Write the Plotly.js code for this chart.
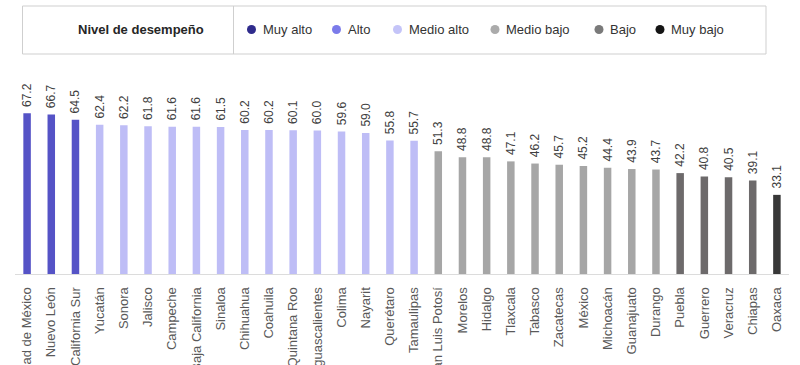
<!DOCTYPE html>
<html>
<head>
<meta charset="utf-8">
<script src="https://cdn.plot.ly/plotly-3.0.1.min.js"></script>
<style>html,body{margin:0;padding:0;background:#fff;}#chart{width:800px;height:365px;}</style>
</head>
<body>
<div id="chart"></div>
<script>
// ---- data ----
const states = ["Ciudad de México","Nuevo León","Baja California Sur","Yucatán","Sonora","Jalisco","Campeche","Baja California","Sinaloa","Chihuahua","Coahuila","Quintana Roo","Aguascalientes","Colima","Nayarit","Querétaro","Tamaulipas","San Luis Potosí","Morelos","Hidalgo","Tlaxcala","Tabasco","Zacatecas","México","Michoacán","Guanajuato","Durango","Puebla","Guerrero","Veracruz","Chiapas","Oaxaca"];
const scores = [67.2,66.7,64.5,62.4,62.2,61.8,61.6,61.6,61.5,60.2,60.2,60.1,60.0,59.6,59.0,55.8,55.7,51.3,48.8,48.8,47.1,46.2,45.7,45.2,44.4,43.9,43.7,42.2,40.8,40.5,39.1,33.1];
const barLevel = ["Alto","Alto","Alto","Medio alto","Medio alto","Medio alto","Medio alto","Medio alto","Medio alto","Medio alto","Medio alto","Medio alto","Medio alto","Medio alto","Medio alto","Medio alto","Medio alto","Medio bajo","Medio bajo","Medio bajo","Medio bajo","Medio bajo","Medio bajo","Medio bajo","Medio bajo","Medio bajo","Medio bajo","Bajo","Bajo","Bajo","Bajo","Muy bajo"];
const levels = ["Muy alto","Alto","Medio alto","Medio bajo","Bajo","Muy bajo"];
const legendColors = ["#2f2b8c","#7b7bea","#c4c4f8","#ababab","#7a7a7a","#141414"];
const barColors = {"Muy alto":"#2f2b8c","Alto":"#5553c6","Medio alto":"#bebdf6","Medio bajo":"#a6a6a6","Bajo":"#6d6a6b","Muy bajo":"#383838"};
const legendTitle = "Nivel de desempeño";

// ---- layout helpers ----
const W = 800, H = 365;
const M = {l: 15, r: 11, t: 60, b: 91};
const pw = W - M.l - M.r, ph = H - M.t - M.b;
const px = x => (x - M.l) / pw;
const py = y => (H - M.b - y) / ph;

const legendX = [251.5, 336.5, 397.5, 495, 599, 660];
const legendY = 29.5;

const shapes = [
  {type:"rect", xref:"paper", yref:"paper", x0:px(22.5), x1:px(766), y0:py(54), y1:py(6),
   line:{color:"#cfcfcf", width:1}, fillcolor:"rgba(0,0,0,0)"},
  {type:"line", xref:"paper", yref:"paper", x0:px(233.5), x1:px(233.5), y0:py(54), y1:py(6),
   line:{color:"#cfcfcf", width:1}}
];
const annotations = [
  {xref:"paper", yref:"paper", x:px(141), y:py(legendY), text:"<b>"+legendTitle+"</b>", showarrow:false,
   xanchor:"center", yanchor:"middle", font:{family:"Liberation Sans, Arial, sans-serif", size:13, color:"#262626"}}
];
levels.forEach((lv, i) => {
  shapes.push({type:"circle", xref:"paper", yref:"paper", xsizemode:"pixel", ysizemode:"pixel",
    xanchor:px(legendX[i]), yanchor:py(legendY), x0:-4.5, x1:4.5, y0:-4.5, y1:4.5,
    fillcolor:legendColors[i], line:{width:0}});
  annotations.push({xref:"paper", yref:"paper", x:px(legendX[i] + 9), y:py(legendY), text:lv, showarrow:false,
    xanchor:"left", yanchor:"middle", font:{family:"Liberation Sans, Arial, sans-serif", size:13, color:"#333333"}});
});

const trace = {
  type:"bar",
  x: states,
  y: scores,
  marker:{color: barLevel.map(l => barColors[l]), line:{width:0}},
  texttemplate:"&nbsp;%{y:.1f}",
  textposition:"outside",
  textangle:-90,
  constraintext:"none",
  cliponaxis:false,
  textfont:{family:"Liberation Sans, Arial, sans-serif", size:12, color:"#404040"},
  hoverinfo:"x+y",
  showlegend:false
};

const layout = {
  width: W, height: H,
  margin: M,
  paper_bgcolor:"#ffffff", plot_bgcolor:"#ffffff",
  bargap: 0.69,
  showlegend:false,
  xaxis:{
    type:"category", tickangle:-90, automargin:false,
    showline:true, linecolor:"#dcdcdc", linewidth:1,
    showgrid:false, zeroline:false, ticks:"", ticklabelstandoff:7,
    tickfont:{family:"Liberation Sans, Arial, sans-serif", size:13, color:"#595959"}
  },
  yaxis:{range:[0, ph/2.391], visible:false, showgrid:false, zeroline:false, fixedrange:true},
  shapes: shapes,
  annotations: annotations
};

Plotly.newPlot("chart", [trace], layout, {displayModeBar:false, staticPlot:true});
</script>
</body>
</html>
